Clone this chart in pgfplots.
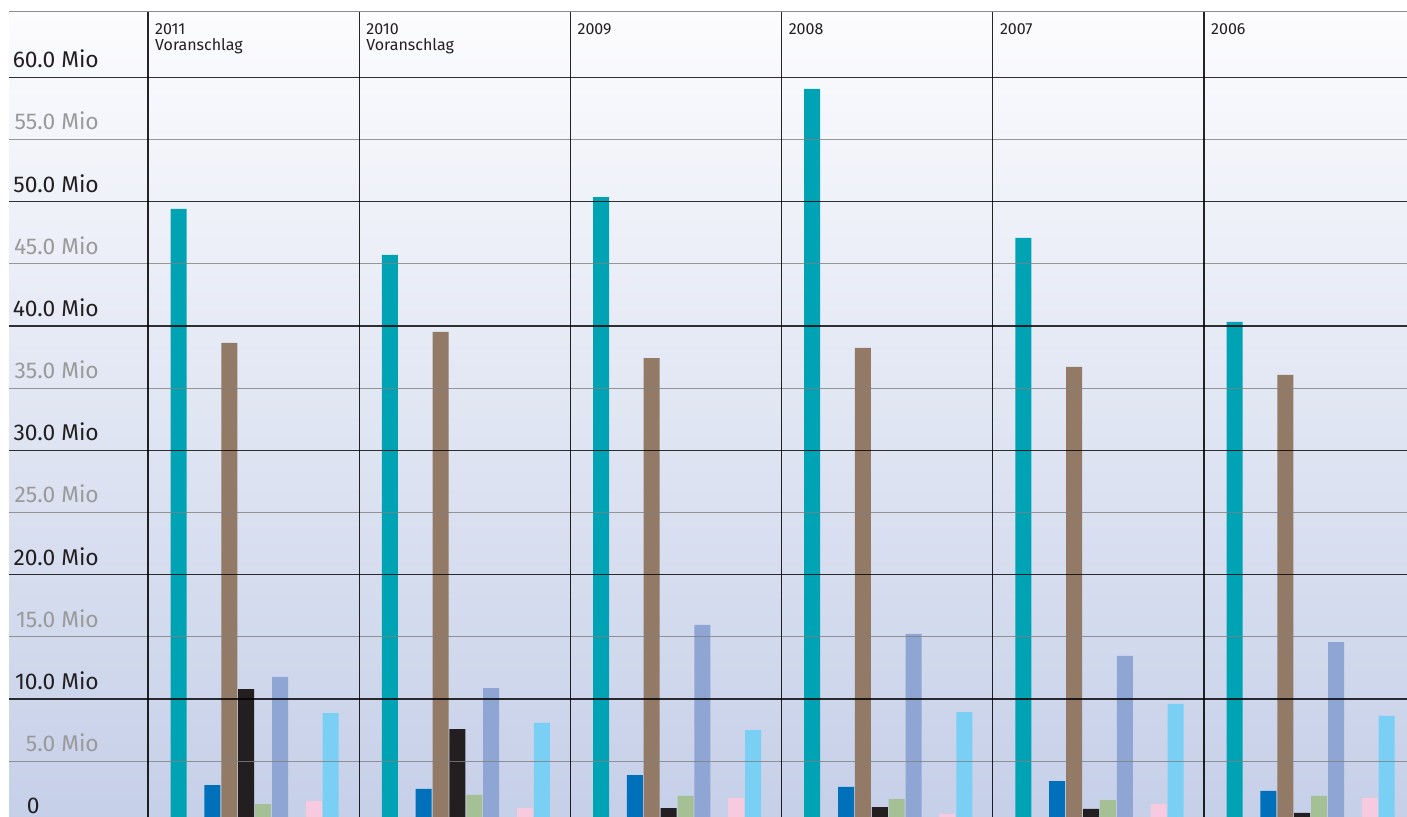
\documentclass[border=0pt]{standalone}
\usepackage{pgfplots}
\pgfplotsset{compat=1.18}
\usepackage{fontspec}
\setmainfont{Fira Sans}
\definecolor{cteal}{HTML}{00A3B4}
\definecolor{cblue}{HTML}{0070BA}
\definecolor{cbrown}{HTML}{937A66}
\definecolor{cblack}{HTML}{231F20}
\definecolor{csage}{HTML}{A5C095}
\definecolor{cperi}{HTML}{8FA5D4}
\definecolor{cpink}{HTML}{F8CADF}
\definecolor{clblue}{HTML}{7AD0F4}
\definecolor{bgtop}{HTML}{FCFCFE}
\definecolor{bgbot}{HTML}{C5CFE8}
\definecolor{lblgray}{HTML}{9A9A9A}
\definecolor{lbldark}{HTML}{231F20}
\definecolor{lightgrid}{HTML}{808080}
\begin{document}
\begin{tikzpicture}
\begin{axis}[
  set layers,
  scale only axis, width=1259pt, height=746pt,
  xmin=-0.5, xmax=5.4612, ymin=0, ymax=60,
  clip=false,
  axis line style={draw=none},
  major tick length=0pt,
  tick style={draw=none},
  ybar, bar width=16pt,
  xtick={-0.5,0.5,1.5,2.5,3.5,4.5},
  xticklabels={{2011\\Voranschlag},{2010\\Voranschlag},2009,2008,2007,2006},
  xticklabel pos=upper,
  xticklabel style={align=left, anchor=north west, inner sep=0pt, xshift=7pt, yshift=54.3pt,
    font=\fontsize{16}{16}\selectfont, text=lbldark},
  ytick={0,5,...,60},
  yticklabels={{\rlap{0}\hspace*{72pt}},{\textcolor{lblgray}{5.0 Mio}},{10.0 Mio},{\textcolor{lblgray}{15.0 Mio}},{20.0 Mio},{\textcolor{lblgray}{25.0 Mio}},{30.0 Mio},{\textcolor{lblgray}{35.0 Mio}},{40.0 Mio},{\textcolor{lblgray}{45.0 Mio}},{50.0 Mio},{\textcolor{lblgray}{55.0 Mio}},{60.0 Mio}},
  yticklabel style={anchor=base east, inner sep=0pt, xshift=-49pt, yshift=9.5pt,
    font=\fontsize{22.8}{24}\selectfont, text=lbldark},
]
% background
\begin{pgfonlayer}{axis background}
\shade[top color=bgtop, bottom color=bgbot] (axis cs:-1.1581,65.252) rectangle (axis cs:5.4612,0);
\end{pgfonlayer}
% bars
\addplot[fill=cteal, draw=none, bar shift=-75pt] coordinates {(0,49.41) (1,45.71) (2,50.37) (3,59.06) (4,47.08) (5,40.32)};
\addplot[fill=cblue, draw=none, bar shift=-41.2pt] coordinates {(0,3.08) (1,2.76) (2,3.88) (3,2.92) (4,3.40) (5,2.60)};
\addplot[fill=cbrown, draw=none, bar shift=-24.3pt] coordinates {(0,38.63) (1,39.52) (2,37.42) (3,38.23) (4,36.70) (5,36.06)};
\addplot[fill=cblack, draw=none, bar shift=-7.4pt] coordinates {(0,10.80) (1,7.58) (2,1.23) (3,1.31) (4,1.16) (5,0.83)};
\addplot[fill=csage, draw=none, bar shift=9.5pt] coordinates {(0,1.55) (1,2.28) (2,2.20) (3,1.95) (4,1.87) (5,2.20)};
\addplot[fill=cperi, draw=none, bar shift=26.4pt] coordinates {(0,11.77) (1,10.88) (2,15.95) (3,15.23) (4,13.46) (5,14.58)};
\addplot[fill=cpink, draw=none, bar shift=60.2pt] coordinates {(0,1.79) (1,1.23) (2,2.04) (3,0.75) (4,1.55) (5,2.04)};
\addplot[fill=clblue, draw=none, bar shift=77.1pt] coordinates {(0,8.87) (1,8.07) (2,7.50) (3,8.95) (4,9.60) (5,8.63)};
% grid lines on top
\pgfplotsinvokeforeach{5,15,25,35,45,55}{
  \draw[lightgrid, opacity=0.8, line width=1.2pt] (axis cs:-1.1581,#1) -- (axis cs:5.4612,#1);
}
\pgfplotsinvokeforeach{10,20,30,40,50,60}{
  \draw[black, opacity=0.8, line width=1.5pt] (axis cs:-1.1581,#1) -- (axis cs:5.4612,#1);
}
\draw[lightgrid, opacity=0.9, line width=1pt] (axis cs:-1.1581,65.252) -- (axis cs:5.4612,65.252);
\pgfplotsinvokeforeach{-0.5,0.5,1.5,2.5,3.5,4.5}{
  \draw[black, opacity=0.85, line width=1.3pt] (axis cs:#1,65.252) -- (axis cs:#1,-1);
}
\coordinate (BL) at (axis cs:-1.2008,0.587);
\coordinate (TR) at (axis cs:5.4612,66.217);
\end{axis}
\pgfresetboundingbox
\path[use as bounding box] (BL) rectangle (TR);
\end{tikzpicture}
\end{document}
